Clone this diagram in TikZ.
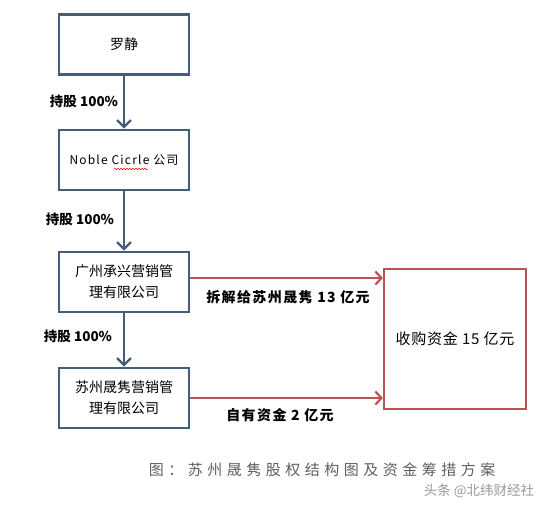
\documentclass[tikz,border=0pt]{standalone}
\usepackage{fontspec}
\usetikzlibrary{arrows.meta,decorations.pathmorphing}
\newfontfamily\cjk{Noto Sans CJK SC}
\definecolor{boxblue}{RGB}{68,93,122}
\definecolor{boxred}{RGB}{186,84,84}
\definecolor{capgray}{RGB}{95,95,95}

\begin{document}
\begin{tikzpicture}[x=1pt,y=1pt,yscale=-1,
  ownbox/.style={draw=boxblue,line width=2.6pt,minimum width=130pt,minimum height=60pt,inner sep=2pt,align=center,font=\cjk\fontsize{14}{21}\selectfont},
  fundbox/.style={draw=boxred,line width=2.2pt,minimum width=142pt,minimum height=140pt,font=\cjk\fontsize{15}{18}\selectfont\addfontfeature{LetterSpace=5}},
  holdarrow/.style={draw=boxblue,line width=2.6pt,-{Straight Barb[length=7pt,width=14pt,line width=2.4pt]}},
  fundarrow/.style={draw=boxred,line width=2.2pt,-{Straight Barb[length=6pt,width=13pt,line width=2.2pt]}},
  sharelbl/.style={font=\cjk\bfseries\fontsize{13.5}{16}\selectfont},
  fundlbl/.style={font=\cjk\bfseries\fontsize{14}{16}\selectfont\addfontfeature{LetterSpace=10}}]
\useasboundingbox (0,0) rectangle (546,508);

%Shape: Rectangle [boxes]
\node [ownbox] (luojing) at (124,44.5) {罗静};
\node [ownbox,font=\cjk\fontsize{12}{14}\selectfont\addfontfeature{LetterSpace=10}] (noble) at (124,160) {Noble Cicrle 公司};
\node [ownbox] (gzcx) at (124,282) {广州承兴营销管\\理有限公司};
\node [ownbox] (szsj) at (124,398) {苏州晟隽营销管\\理有限公司};
\node [fundbox] (fund) at (455,339) {收购资金 15 亿元};

%Straight Lines [holding]
\draw [holdarrow] (luojing) -- (noble);
\draw [holdarrow] (noble) -- (gzcx);
\draw [holdarrow] (gzcx) -- (szsj);
%Straight Lines [funds]
\draw [fundarrow] ([yshift=-4pt]gzcx.east) -- ([yshift=-4pt]gzcx.east -| fund.west);
\draw [fundarrow] (szsj.east) -- (szsj.east -| fund.west);

%spell check mark
\draw [red,line width=0.5pt,decorate,decoration={snake,amplitude=0.7pt,segment length=3pt}]
  ([xshift=-10pt,yshift=9pt]noble.center) -- ([xshift=24pt,yshift=9pt]noble.center);

% Text Node
\node [sharelbl] (lbla) at (84,101) {持股 100\%};
% Text Node
\node [sharelbl] (lblb) at (80,219) {持股 100\%};
% Text Node
\node [sharelbl] (lblc) at (78,336) {持股 100\%};
% Text Node
\node [fundlbl] (lbld) at (288,297) {拆解给苏州晟隽 13 亿元};
% Text Node
\node [fundlbl] (lble) at (280,415) {自有资金 2 亿元};
% Text Node
\node [text=capgray,font=\cjk\fontsize{15}{18}\selectfont\addfontfeature{LetterSpace=30}] (caption) at (322,470) {图：苏州晟隽股权结构图及资金筹措方案};
% Text Node
\node [text=gray!80,font=\cjk\fontsize{13.5}{16}\selectfont] (mark) at (479,491) {头条 @北纬财经社};

\end{tikzpicture}
\end{document}
